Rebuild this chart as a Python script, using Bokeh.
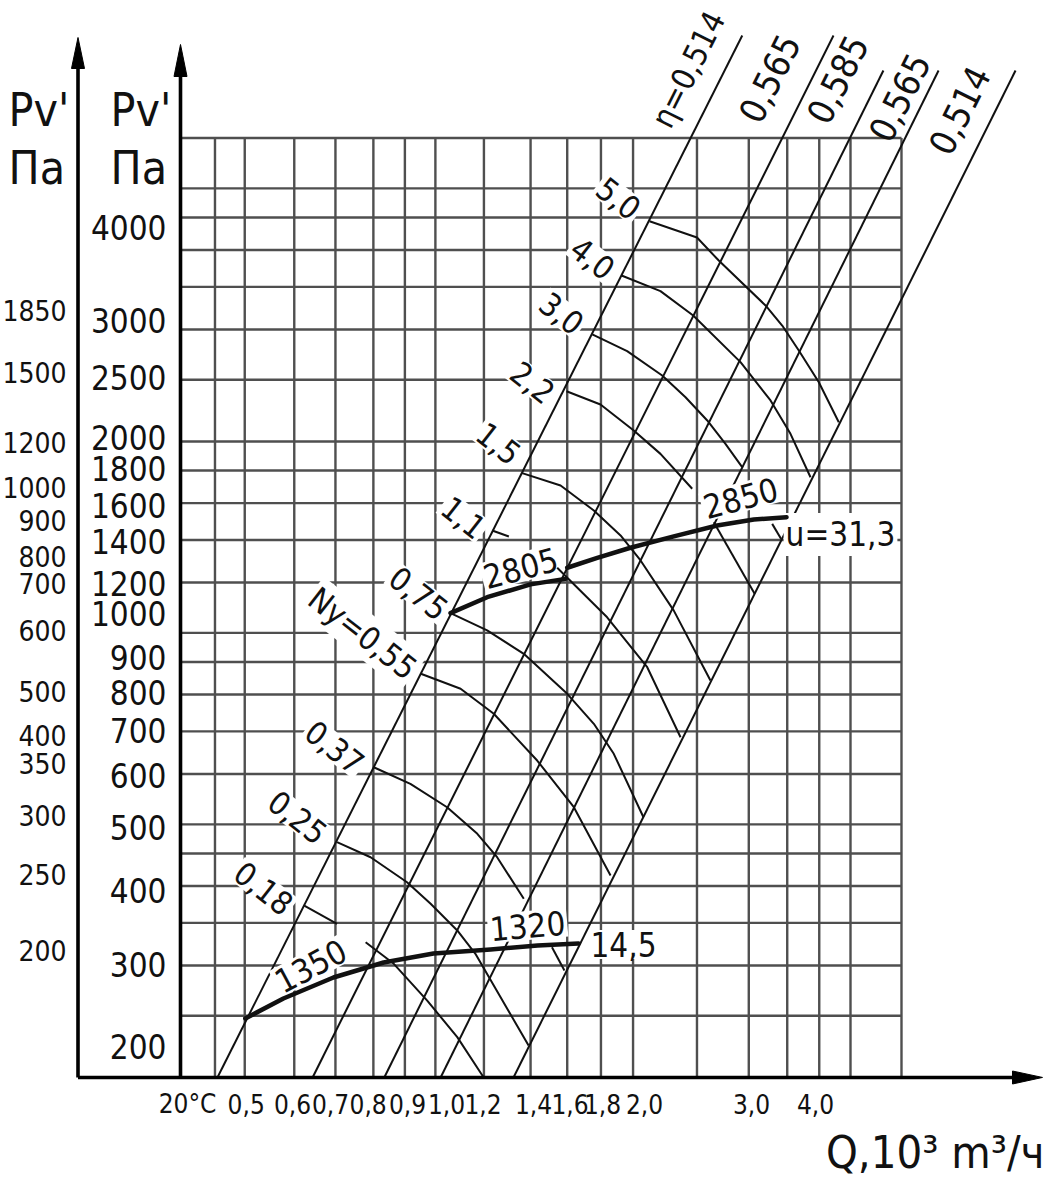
import math
from bokeh.plotting import figure
from bokeh.models import Range1d
from bokeh.core.properties import value
from bokeh.embed import file_html
from bokeh.resources import INLINE

# ---------------- data (Q in 10^3 m3/h, Pv in Pa) ----------------
grid_q = [0.449, 0.50, 0.598, 0.694, 0.796, 0.892, 0.996, 1.187, 1.405, 1.604,
          1.812, 2.035, 2.564, 3.092, 3.553, 3.989, 4.466, 5.37]
grid_p = [250, 300, 350, 400, 450, 500, 600, 700, 800, 900, 1000, 1200, 1400,
          1600, 1800, 2000, 2500, 3000, 3500, 4000, 4500, 5000, 6000]
p_base = 200

# efficiency lines (straight on log-log)
eta_text = ["η=0,514", "0,565", "0,585", "0,565", "0,514"]
eta_q0 = [0.453, 0.639, 0.828, 1.015, 1.321]
eta_p0 = [200, 200, 200, 200, 200]
eta_q1 = [3.02, 4.20, 5.03, 6.14, 8.11]
eta_p1 = [8696, 8696, 7661, 7661, 7661]

# power curves Ny (kW)
n50_q = [2.160, 2.564, 2.774, 3.285, 3.489, 3.705, 3.983, 4.281]
n50_p = [4439, 4185, 3850, 3272, 3043, 2780, 2478, 2144]
n40_q = [1.952, 2.247, 2.529, 3.001, 3.345, 3.595, 3.865]
n40_p = [3647, 3446, 3155, 2665, 2320, 2056, 1757]
n30_q = [1.756, 1.992, 2.261, 2.460, 2.661, 2.842, 3.019]
n30_p = [2946, 2773, 2539, 2347, 2158, 1983, 1822]
n22a_q = [1.600, 1.809, 2.040, 2.247, 2.520]
n22a_p = [2399, 2286, 2081, 1912, 1685]
n22b_q = [2.725, 3.158]
n22b_p = [1493, 1152]
n15_q = [1.363, 1.566, 1.766, 1.945, 2.091, 2.358, 2.692]
n15_p = [1783, 1705, 1558, 1423, 1300, 1084, 841.7]
n11a_q = [1.223, 1.299]
n11a_p = [1449, 1418]
n11b_q = [1.547, 1.853, 2.142, 2.416]
n11b_p = [1266, 1058, 883.2, 685.5]
n075_q = [1.052, 1.201, 1.371, 1.604, 1.766, 1.898, 2.113]
n075_p = [1074, 1009, 927.1, 802.1, 719.6, 645.5, 513.1]
n055_q = [0.945, 1.091, 1.230, 1.439, 1.643, 1.876]
n055_p = [862.4, 816.8, 746.1, 630.0, 532.0, 415.5]
n037_q = [0.797, 0.910, 1.039, 1.159, 1.245, 1.371]
n037_p = [614.9, 579.1, 532.0, 483.2, 443.9, 381.9]
n025_q = [0.698, 0.788, 0.899, 0.979, 1.078, 1.151, 1.395]
n025_p = [468.7, 443.9, 405.5, 375.0, 340.5, 312.9, 224.5]
n018a_q = [0.620, 0.698]
n018a_p = [372.7, 348.8]
n018b_q = [0.774, 0.857, 0.967, 1.078, 1.186]
n018b_p = [326.3, 301.8, 264.2, 231.4, 200]

# speed curves (thick)
rpm1350_q = [0.501, 0.575, 0.689, 0.826, 0.989, 1.216, 1.441, 1.671]
rpm1350_p = [247.6, 266.2, 287.2, 303.2, 313.3, 317.8, 322.5, 324.8]
rpm2850a_q = [1.052, 1.201, 1.405, 1.594]
rpm2850a_p = [1074, 1138, 1192, 1216]
rpm2850b_q = [1.604, 1.788, 2.016, 2.358, 2.758, 3.149, 3.544]
rpm2850b_p = [1266, 1312, 1361, 1418, 1475, 1508, 1520]
end_a_q = [3.365, 3.474]
end_a_p = [1484, 1406]
end_b_q = [1.518, 1.588]
end_b_p = [320.5, 294.6]

# tick labels
x_labels = ["20°C", "0,5", "0,6", "0,7", "0,8", "0,9", "1,0", "1,2", "1,4",
            "1,6", "1,8", "2,0", "3,0", "4,0"]
x_label_q = [0.4066, 0.5026, 0.5942, 0.6817, 0.7811, 0.9004, 1.0368, 1.1833,
             1.4200, 1.6206, 1.8222, 2.1209, 3.1228, 3.9355]
inner_labels = ["4000", "3000", "2500", "2000", "1800", "1600", "1400", "1200",
                "1000", "900", "800", "700", "600", "500", "400", "300", "200"]
inner_label_p = [4344, 3099, 2521, 2029, 1813, 1586, 1392, 1196, 1073, 915,
                 807, 702, 597, 494, 394, 301, 224]
outer_labels = ["1850", "1500", "1200", "1000", "900", "800", "700", "600",
                "500", "400", "350", "300", "250", "200"]
outer_label_p = [3213, 2570, 1995, 1695, 1502, 1320, 1196, 1010, 810, 690,
                 624, 517, 417, 317]

# ---------------- layout helpers (canvas pixel -> data) ----------------
X0, KX, Y0, KY = 436.0, 637.0, 2540.4, 636.0
def qx(px):
    return 10 ** ((px - X0) / KX)
def pv(py):
    return 10 ** ((Y0 - py) / KY)

FONT = value("DejaVu Sans Condensed, Liberation Sans")
BLACK = "#111111"
W, H = 1048, 1180

p = figure(width=W, height=H, x_axis_type="log", y_axis_type="log",
           x_range=Range1d(qx(0), qx(W)), y_range=Range1d(pv(H), pv(0)),
           x_axis_location=None, y_axis_location=None,
           output_backend="svg", toolbar_location=None, min_border=0)
p.outline_line_color = None
p.grid.visible = False
p.background_fill_color = "white"
p.border_fill_color = "white"

q_left = qx(180)
q_right = grid_q[-1]
p_top = grid_p[-1]

# grid
gx, gy = [], []
for q in grid_q:
    gx.append([q, q]); gy.append([p_base, p_top])
for pp in grid_p:
    gx.append([q_left, q_right]); gy.append([pp, pp])
p.multi_line(gx, gy, line_color="#4f4f4f", line_width=2.4)

# efficiency lines
p.multi_line([[a, b] for a, b in zip(eta_q0, eta_q1)],
             [[a, b] for a, b in zip(eta_p0, eta_p1)],
             line_color=BLACK, line_width=2)

# labels with white boxes (they interrupt the grid, as in the drawing)
arc_txt = ["5,0", "4,0", "3,0", "2,2", "1,5", "1,1", "0,75", "Ny=0,55",
           "0,37", "0,25", "0,18"]
arc_px = [618, 592, 561, 532, 498, 463, 418, 362, 334, 297, 263]
arc_py = [198, 258, 313, 382, 443, 517, 593, 633, 747, 817, 888]
p.text(x=[qx(v) for v in arc_px], y=[pv(v) for v in arc_py], text=arc_txt,
       angle=math.radians(-38), text_font=FONT, text_font_size="32px",
       text_align="center", text_baseline="middle", text_color=BLACK,
       background_fill_color="white", padding=2)

sp_txt = ["1350", "1320", "14,5", "2805", "2850", "u=31,3"]
sp_px = [310, 527, 623, 520, 740, 840]
sp_py = [965, 925, 944, 567, 497, 534]
sp_ang = [28, 5, 0, 15, 15, 0]
p.text(x=[qx(v) for v in sp_px], y=[pv(v) for v in sp_py], text=sp_txt,
       angle=[math.radians(a) for a in sp_ang], text_font=FONT,
       text_font_size="33px", text_align="center", text_baseline="middle",
       text_color=BLACK, background_fill_color="white", padding=2)

# power curves
arcs_q = [n50_q, n40_q, n30_q, n22a_q, n22b_q, n15_q, n11a_q, n11b_q, n075_q,
          n055_q, n037_q, n025_q, n018a_q, n018b_q, end_a_q, end_b_q]
arcs_p = [n50_p, n40_p, n30_p, n22a_p, n22b_p, n15_p, n11a_p, n11b_p, n075_p,
          n055_p, n037_p, n025_p, n018a_p, n018b_p, end_a_p, end_b_p]
p.multi_line(arcs_q, arcs_p, line_color=BLACK, line_width=2, line_join="round")

# speed curves
p.multi_line([rpm1350_q, rpm2850a_q, rpm2850b_q],
             [rpm1350_p, rpm2850a_p, rpm2850b_p],
             line_color=BLACK, line_width=4.5, line_join="round", line_cap="round")

# axes with arrows
q_out = qx(77.5)
p.multi_line([[q_left, q_left], [q_out, q_out], [q_out, qx(1014)]],
             [[p_base, pv(72)], [p_base, pv(64)], [p_base, p_base]],
             line_color="black", line_width=3.6)
p.patches([[q_left, qx(173.5), qx(186.5)],
           [q_out, qx(71), qx(84)],
           [qx(1042), qx(1012), qx(1012)]],
          [[pv(44), pv(76), pv(76)],
           [pv(37), pv(68), pv(68)],
           [p_base, pv(1070.5), pv(1083.5)]],
          fill_color="black", line_color="black", line_width=1)

# tick labels
p.text(x=x_label_q, y=[pv(1103)] * len(x_label_q), text=x_labels,
       text_font=FONT, text_font_size="26px", text_align="center",
       text_baseline="middle", text_color=BLACK)
p.text(x=[qx(166)] * len(inner_label_p), y=inner_label_p, text=inner_labels,
       text_font=FONT, text_font_size="33px", text_align="right",
       text_baseline="middle", text_color=BLACK)
p.text(x=[qx(66)] * len(outer_label_p), y=outer_label_p, text=outer_labels,
       text_font=FONT, text_font_size="28px", text_align="right",
       text_baseline="middle", text_color=BLACK)

# axis titles
p.text(x=[qx(8), qx(8), qx(110), qx(110)], y=[pv(109), pv(167), pv(109), pv(167)],
       text=["Pv'", "Па", "Pv'", "Па"], text_font=FONT, text_font_size="46px",
       text_align="left", text_baseline="middle", text_color=BLACK)
p.text(x=[qx(1044)], y=[pv(1152)], text=["Q,10³ m³/ч"], text_font=FONT,
       text_font_size="45px", text_align="right", text_baseline="middle",
       text_color=BLACK)

# efficiency labels along the lines
eta_px = [688, 769, 837, 899, 959]
eta_py = [69, 78, 79, 97, 110]
eta_size = ["32px", "36px", "36px", "36px", "36px"]
p.text(x=[qx(v) for v in eta_px], y=[pv(v) for v in eta_py], text=eta_text,
       angle=math.atan(2), text_font=FONT, text_font_size=eta_size,
       text_align="center", text_baseline="middle", text_color=BLACK)

open("out.html", "w").write(file_html(p, INLINE))
